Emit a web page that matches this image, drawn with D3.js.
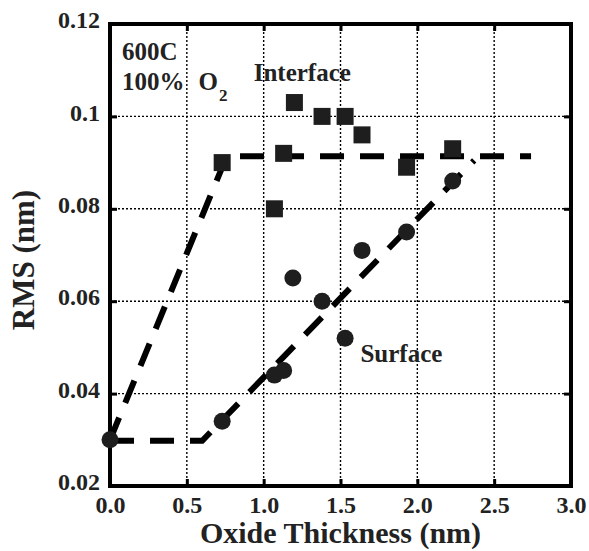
<!DOCTYPE html>
<html>
<head>
<meta charset="utf-8">
<script src="https://cdn.jsdelivr.net/npm/d3@7"></script>
<style>
  html, body { margin: 0; padding: 0; background: #fff; }
  svg { display: block; }
  text { font-family: "Liberation Serif", "Times New Roman", serif; font-weight: bold; fill: #222; }
</style>
</head>
<body>
<svg id="chart" width="589" height="551"></svg>
<script>
// ---- data ----
const interfaceX = [0.73, 1.07, 1.13, 1.20, 1.38, 1.53, 1.64, 1.93, 2.23];
const interfaceY = [0.090, 0.080, 0.092, 0.103, 0.100, 0.100, 0.096, 0.089, 0.093];
const surfaceX = [0.0, 0.73, 1.07, 1.13, 1.19, 1.38, 1.53, 1.64, 1.93, 2.23];
const surfaceY = [0.030, 0.034, 0.044, 0.045, 0.065, 0.060, 0.052, 0.071, 0.075, 0.086];
const interfaceFitX = [0.0, 0.76, 2.74];
const interfaceFitY = [0.030, 0.0914, 0.0914];
const surfaceFitX = [0.0, 0.60, 2.37];
const surfaceFitY = [0.0298, 0.0298, 0.0905];
const xTicks = [0, 0.5, 1.0, 1.5, 2.0, 2.5, 3.0];
const yTicks = [0.02, 0.04, 0.06, 0.08, 0.10, 0.12];
const xTickLabels = ["0.0", "0.5", "1.0", "1.5", "2.0", "2.5", "3.0"];
const yTickLabels = ["0.02", "0.04", "0.06", "0.08", "0.1", "0.12"];
const xTitle = "Oxide Thickness (nm)";
const yTitle = "RMS (nm)";

// ---- layout ----
const W = 589, H = 551;
const m = { left: 110, top: 24, right: 18, bottom: 65 };
const iw = W - m.left - m.right, ih = H - m.top - m.bottom;

const svg = d3.select("#chart");
const g = svg.append("g").attr("transform", `translate(${m.left},${m.top})`);

const x = d3.scaleLinear().domain([0, 3]).range([0, iw]);
const y = d3.scaleLinear().domain([0.02, 0.12]).range([ih, 0]);

// grid
const grid = g.append("g").attr("stroke", "#000").attr("stroke-width", 1.4).attr("stroke-dasharray", "2,2");
grid.selectAll("line.v").data(xTicks.slice(1, -1)).join("line")
  .attr("x1", d => x(d)).attr("x2", d => x(d)).attr("y1", 0).attr("y2", ih);
grid.selectAll("line.h").data(yTicks.slice(1, -1)).join("line")
  .attr("y1", d => y(d)).attr("y2", d => y(d)).attr("x1", 0).attr("x2", iw);

// axes
function styleAxis(sel) {
  sel.select(".domain").remove();
  sel.selectAll(".tick line").attr("stroke", "#000").attr("stroke-width", 3);
  sel.selectAll(".tick text").attr("font-size", 24).attr("fill", "#222")
    .attr("font-family", "Liberation Serif, Times New Roman, serif").attr("font-weight", "bold");
}
const xAxis = g.append("g").attr("transform", `translate(0,${ih})`)
  .call(d3.axisBottom(x).tickValues(xTicks).tickFormat((d, i) => xTickLabels[i]).tickSizeInner(-7).tickSizeOuter(0).tickPadding(10));
styleAxis(xAxis);
const yAxis = g.append("g")
  .call(d3.axisLeft(y).tickValues(yTicks).tickFormat((d, i) => yTickLabels[i]).tickSizeInner(-7).tickSizeOuter(0).tickPadding(10));
styleAxis(yAxis);
yAxis.selectAll(".tick text").attr("y", -4);
const xTop = g.append("g").call(d3.axisTop(x).tickValues(xTicks).tickFormat("").tickSizeInner(-7).tickSizeOuter(0));
styleAxis(xTop);
const yRight = g.append("g").attr("transform", `translate(${iw},0)`)
  .call(d3.axisRight(y).tickValues(yTicks).tickFormat("").tickSizeInner(-7).tickSizeOuter(0));
styleAxis(yRight);

// frame
g.append("rect").attr("x", 0).attr("y", 0).attr("width", iw).attr("height", ih)
  .attr("fill", "none").attr("stroke", "#000").attr("stroke-width", 4);

// fit lines
const line = d3.line().x(d => x(d[0])).y(d => y(d[1]));
[[interfaceFitX, interfaceFitY], [surfaceFitX, surfaceFitY]].forEach(([xs, ys]) => {
  g.append("path").datum(xs.map((v, i) => [v, ys[i]]))
    .attr("d", line).attr("fill", "none").attr("stroke", "#000")
    .attr("stroke-width", 6).attr("stroke-dasharray", "24,16");
});

// markers
const sq = 17;
g.selectAll("rect.sq").data(interfaceX.map((v, i) => [v, interfaceY[i]])).join("rect")
  .attr("x", d => x(d[0]) - sq / 2).attr("y", d => y(d[1]) - sq / 2)
  .attr("width", sq).attr("height", sq).attr("fill", "#1e1e1e");
g.selectAll("circle.pt").data(surfaceX.map((v, i) => [v, surfaceY[i]])).join("circle")
  .attr("cx", d => x(d[0])).attr("cy", d => y(d[1])).attr("r", 8.5).attr("fill", "#1e1e1e");

// annotations (data coordinates)
g.append("text").attr("x", x(0.078)).attr("y", y(0.1122)).attr("font-size", 25).text("600C");
const t2 = g.append("text").attr("x", x(0.078)).attr("y", y(0.1057)).attr("font-size", 25);
t2.append("tspan").text("100%");
t2.append("tspan").attr("dx", 14).text("O");
t2.append("tspan").attr("dx", 1).attr("dy", 11).attr("font-size", 17).text("2");
g.append("text").attr("x", x(0.935)).attr("y", y(0.1077)).attr("font-size", 25).text("Interface");
g.append("text").attr("x", x(1.63)).attr("y", y(0.0468)).attr("font-size", 25).text("Surface");

// titles
svg.append("text").attr("x", m.left + iw / 2).attr("y", 543).attr("text-anchor", "middle")
  .attr("font-size", 30).text(xTitle);
svg.append("text").attr("transform", `translate(34,${m.top + ih / 2 + 5}) rotate(-90)`)
  .attr("text-anchor", "middle").attr("font-size", 31).text(yTitle);
</script>
</body>
</html>
